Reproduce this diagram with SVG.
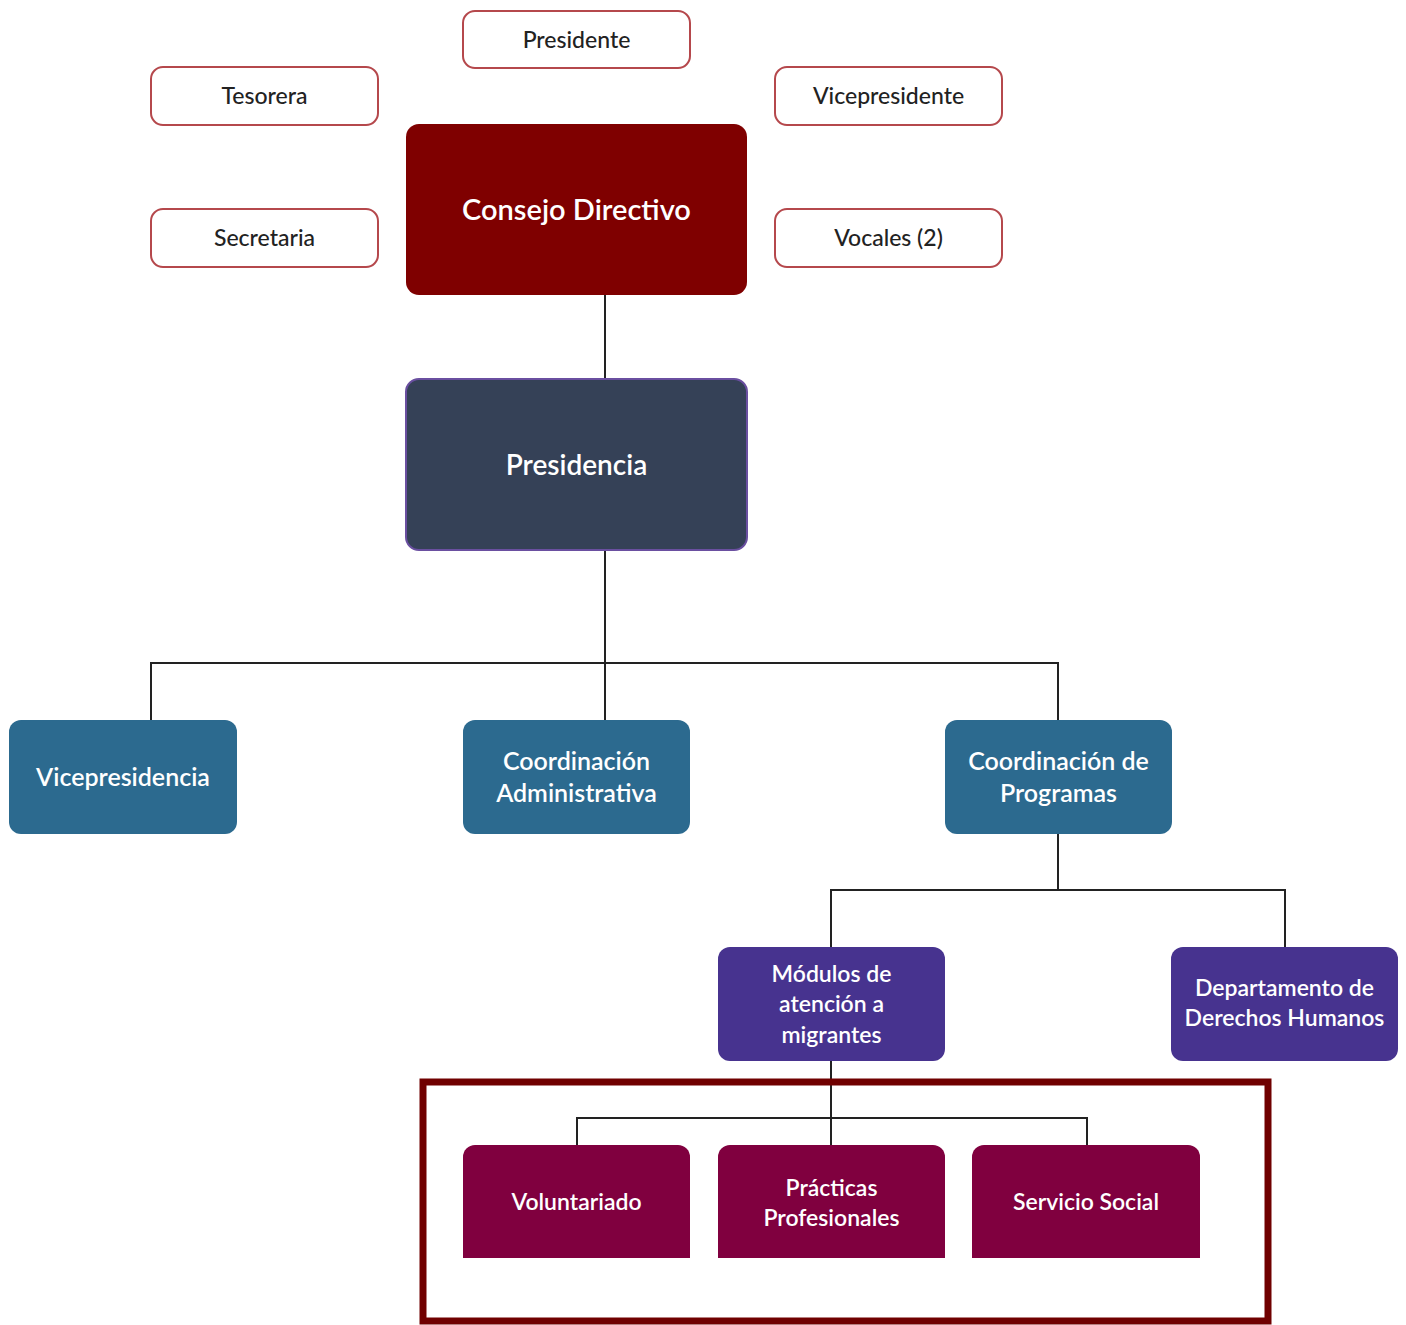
<svg xmlns="http://www.w3.org/2000/svg" width="1406" height="1325" viewBox="0 0 1406 1325">
<style>
.w rect{fill:#fff;stroke:#b5484c;stroke-width:2}
.wt{font-family:Lato,"Liberation Sans",sans-serif;font-size:23px;fill:#222;text-anchor:middle;font-weight:500}
.t{font-family:Lato,"Liberation Sans",sans-serif;fill:#fff;text-anchor:middle;font-weight:600}
.c{stroke:#222;stroke-width:2;fill:none}
</style>
<rect width="1406" height="1325" fill="#fff"/>
<g id="connectors" class="c">
<path d="M605 295V379M605 550V720M151 720V663H1058V720"/>
<path d="M1058 834V890M831 947V890H1285V947"/>
<path d="M831 1061V1145M577 1145V1118H1087V1145"/>
</g>
<g id="presidente" class="w"><rect x="463" y="11" width="227" height="57" rx="12"/><text class="wt" x="576.5" y="48">Presidente</text></g>
<g id="tesorera" class="w"><rect x="151" y="67" width="227" height="58" rx="12"/><text class="wt" x="264.5" y="104">Tesorera</text></g>
<g id="vicepresidente" class="w"><rect x="775" y="67" width="227" height="58" rx="12"/><text class="wt" x="888.5" y="104">Vicepresidente</text></g>
<g id="secretaria" class="w"><rect x="151" y="209" width="227" height="58" rx="12"/><text class="wt" x="264.5" y="246">Secretaria</text></g>
<g id="vocales" class="w"><rect x="775" y="209" width="227" height="58" rx="12"/><text class="wt" x="888.5" y="246">Vocales (2)</text></g>
<g id="consejo"><rect x="406" y="124" width="341" height="171" rx="13" fill="#7f0000"/><text class="t" x="576.5" y="220" font-size="29">Consejo Directivo</text></g>
<g id="presidencia"><rect x="406" y="379" width="341" height="171" rx="13" fill="#354157" stroke="#6a4fa0" stroke-width="2"/><text class="t" x="576.5" y="475" font-size="28">Presidencia</text></g>
<g id="vicepresidencia"><rect x="9" y="720" width="228" height="114" rx="12" fill="#2c6a8f"/><text class="t" x="123" y="786" font-size="25">Vicepresidencia</text></g>
<g id="coord-admin"><rect x="463" y="720" width="227" height="114" rx="12" fill="#2c6a8f"/><text class="t" x="576.5" font-size="25"><tspan x="576.5" y="770">Coordinación</tspan><tspan x="576.5" y="802">Administrativa</tspan></text></g>
<g id="coord-prog"><rect x="945" y="720" width="227" height="114" rx="12" fill="#2c6a8f"/><text class="t" x="1058.5" font-size="25"><tspan x="1058.5" y="770">Coordinación de</tspan><tspan x="1058.5" y="802">Programas</tspan></text></g>
<g id="modulos"><rect x="718" y="947" width="227" height="114" rx="12" fill="#47338f"/><text class="t" x="831.5" font-size="23"><tspan x="831.5" y="982">Módulos de</tspan><tspan x="831.5" y="1012">atención a</tspan><tspan x="831.5" y="1043">migrantes</tspan></text></g>
<g id="derechos"><rect x="1171" y="947" width="227" height="114" rx="12" fill="#47338f"/><text class="t" x="1284.5" font-size="23"><tspan x="1284.5" y="996">Departamento de</tspan><tspan x="1284.5" y="1026">Derechos Humanos</tspan></text></g>
<g id="grupo"><rect x="423" y="1082" width="845" height="239" fill="none" stroke="#700000" stroke-width="7"/></g>
<g id="voluntariado"><path d="M463 1258V1157a12 12 0 0 1 12-12H678a12 12 0 0 1 12 12V1258Z" fill="#80003f"/><text class="t" x="576.5" y="1210" font-size="23">Voluntariado</text></g>
<g id="practicas"><path d="M718 1258V1157a12 12 0 0 1 12-12H933a12 12 0 0 1 12 12V1258Z" fill="#80003f"/><text class="t" x="831.5" font-size="23"><tspan x="831.5" y="1196">Prácticas</tspan><tspan x="831.5" y="1226">Profesionales</tspan></text></g>
<g id="servicio"><path d="M972 1258V1157a12 12 0 0 1 12-12H1188a12 12 0 0 1 12 12V1258Z" fill="#80003f"/><text class="t" x="1086" y="1210" font-size="23">Servicio Social</text></g>
</svg>
